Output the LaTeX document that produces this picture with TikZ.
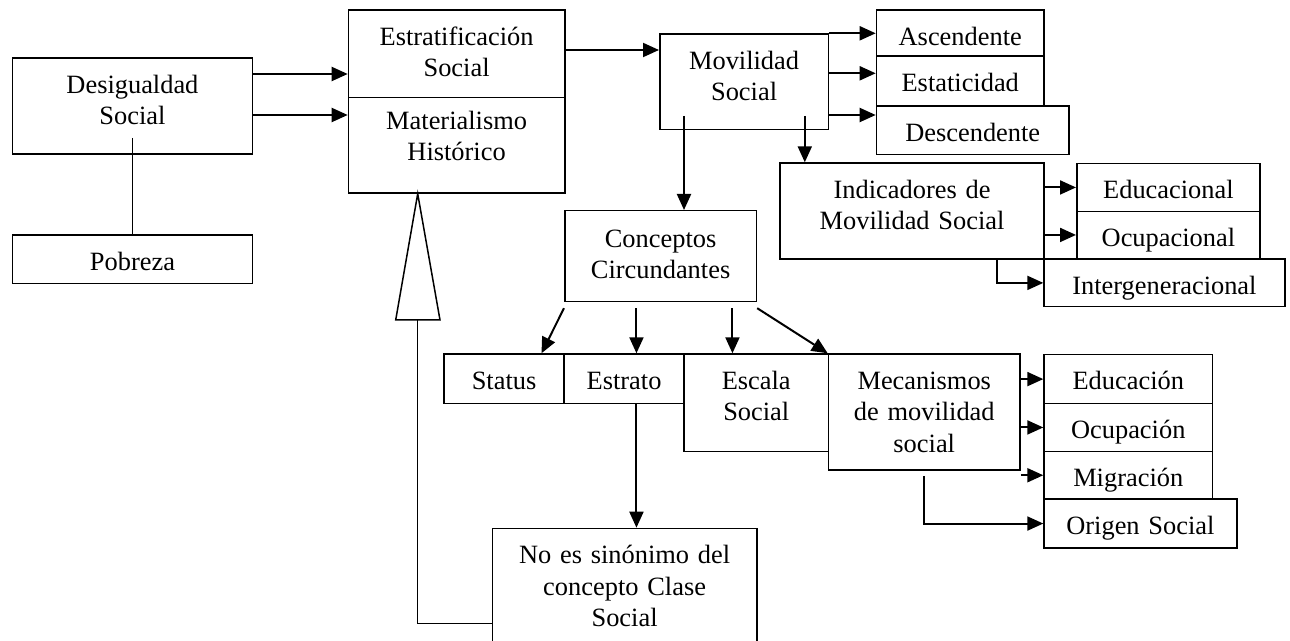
\documentclass[tikz,border=0pt]{standalone}
\usepackage{fontspec}
\setmainfont{Liberation Serif}
\usepackage{tikz}
\usetikzlibrary{arrows.meta}

\tikzset{
  caja/.style 2 args={draw, line width=0.75pt, inner sep=0pt, anchor=north west,
    align=center, text width=#1, text height=17.5pt, text depth=#2},
  flecha/.style={line width=1pt, -{Triangle[length=8pt,width=7pt]}},
  linea/.style={line width=0.75pt}
}

\begin{document}
\begin{tikzpicture}[x=0.5pt,y=0.5pt,yscale=-1,xscale=1,font=\fontsize{13.2}{15.8}\selectfont]
\useasboundingbox (0,0) rectangle (1290,641);

%Shape: Rectangle
\node [caja={120pt}{30.5pt}] (desig) at (11.7,57.3) {Desigualdad\\Social};
\node [caja={120pt}{6.85pt}] (pobreza) at (11.7,234.3) {Pobreza};
\node [caja={108.15pt}{26.2pt}] (estrat) at (347.7,9.3) {Estratificación\\Social};
\node [caja={108.15pt}{31.9pt}, text height=15.9pt] (mater) at (347.7,96.7) {Materialismo\\Histórico};
\node [caja={84.35pt}{30.35pt}] (movil) at (659,33.3) {Movilidad\\Social};
%Shape: Rectangle
\node [caja={83.8pt}{5.5pt}] (asc) at (875.7,9.3) {Ascendente};
\node [caja={83.8pt}{7.5pt}] (estat) at (875.7,55.3) {Estaticidad};
\node [caja={96.3pt}{6.7pt}] (desc) at (875.7,105.3) {Descendente};
\node [caja={132pt}{30.5pt}] (indic) at (779.3,162.3) {Indicadores de\\Movilidad Social};
\node [caja={91.65pt}{6.5pt}] (educa) at (1076,162.7) {Educacional};
\node [caja={91.65pt}{6pt}] (ocupa) at (1076,210.7) {Ocupacional};
\node [caja={120.35pt}{6.35pt}] (inter) at (1043.3,258.3) {Intergeneracional};
%Shape: Rectangle
\node [caja={95.85pt}{27.2pt}, text height=18.3pt] (concep) at (564,210) {Conceptos\\Circundantes};
\node [caja={60pt}{7.2pt}] (status) at (443.3,353.3) {Status};
\node [caja={60pt}{7.2pt}] (estrato) at (563.3,353.3) {Estrato};
\node [caja={72.2pt}{31.2pt}] (escala) at (683.3,353.3) {Escala\\Social};
\node [caja={95.8pt}{40.35pt}] (mecan) at (827.7,353.3) {Mecanismos\\de movilidad\\social};
\node [caja={84.2pt}{6.85pt}] (edu) at (1043.3,354) {Educación};
\node [caja={84.2pt}{6.5pt}] (ocu) at (1043.3,402.7) {Ocupación};
\node [caja={84.2pt}{6.3pt}] (mig) at (1043.3,450.7) {Migración};
\node [caja={96.35pt}{7pt}] (origen) at (1043.3,498.3) {Origen Social};
\node [caja={132.15pt}{47.5pt}] (noes) at (491.7,527.7) {No es sinónimo del\\concepto Clase\\Social};

%Straight Lines
\draw [flecha] (desig.east |- 0,74) -- (estrat.west |- 0,74);
\draw [flecha] (desig.east |- 0,115) -- (mater.west |- 0,115);
\draw [linea] (desig.center |- 0,138) -- (pobreza.north);
\draw [flecha] (estrat.east |- 0,50) -- (movil.west |- 0,50);
%Straight Lines
\draw [flecha] (movil.north east) -- (asc.west |- movil.north east);
\draw [flecha] (movil.east |- 0,73.3) -- (estat.west |- 0,73.3);
\draw [flecha] (movil.east |- 0,115) -- (desc.west |- 0,115);
\draw [flecha] ([xshift=12.5pt,yshift=-7.35pt]movil.south west) coordinate (m1) -- (m1 |- concep.north);
\draw [flecha] ([xshift=-12.2pt,yshift=-7.35pt]movil.south east) coordinate (m2) -- (m2 |- indic.north);
%Straight Lines
\draw [flecha] (indic.east |- educa.west) -- (educa.west);
\draw [flecha] (indic.east |- ocupa.west) -- (ocupa.west);
\draw [flecha] ([xshift=-23.8pt]indic.south east) |- (inter.west);
%Straight Lines
\coordinate (c2) at ([xshift=6.2pt]estrato.north);
\coordinate (c3) at ([xshift=-11.9pt]escala.north);
\draw [flecha] ([yshift=2.85pt]concep.south west) -- ([xshift=-11.65pt]status.north east);
\draw [flecha, shorten <=2.85pt] (c2 |- concep.south) -- (c2);
\draw [flecha, shorten <=2.85pt] (c3 |- concep.south) -- (c3);
\draw [flecha] ([yshift=2.85pt]concep.south east) -- (mecan.north west);
\draw [flecha] (c2 |- estrato.south) -- (c2 |- noes.north);
%Straight Lines
\draw [flecha] (mecan.east |- edu.west) -- (edu.west);
\draw [flecha] (mecan.east |- ocu.west) -- (ocu.west);
\draw [flecha] (mecan.east |- mig.west) -- (mig.west);
\draw [flecha, shorten <=2.65pt] (mecan.south) |- (origen.west);

%Shape: Triangle
\draw [linea] (mater.south -| 417.7,0) -- (440,320) -- (395.7,320) -- cycle;
\draw [linea] (417.7,320) |- (noes.west |- 0,623.3);
\end{tikzpicture}
\end{document}
